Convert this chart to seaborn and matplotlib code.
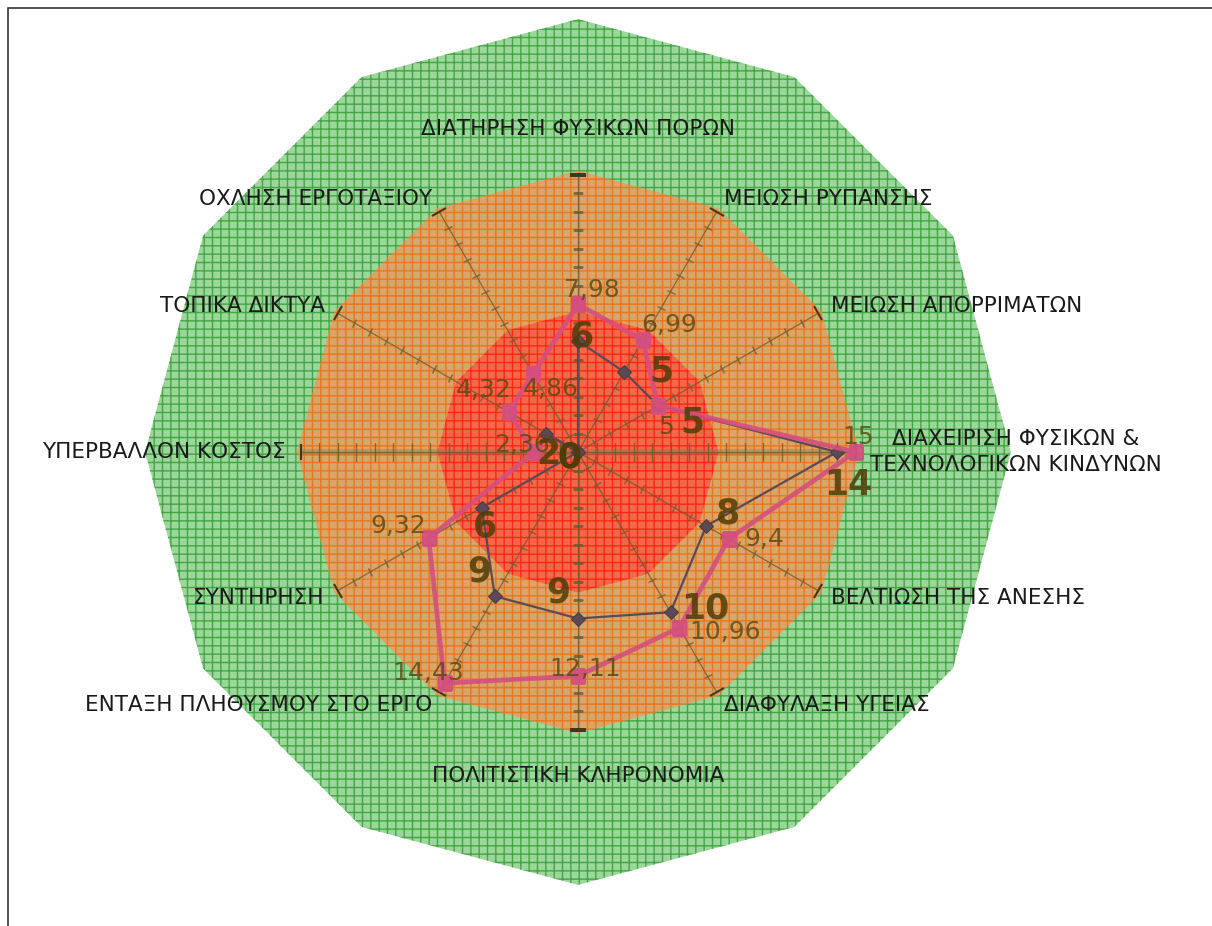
import numpy as np
import pandas as pd
import matplotlib
matplotlib.use('Agg')
import matplotlib.pyplot as plt
from matplotlib.markers import MarkerStyle
from matplotlib.transforms import Affine2D
from matplotlib.patches import Rectangle
import seaborn as sns

# ---------------- data ----------------
categories = [
    "ΔΙΑΤΗΡΗΣΗ ΦΥΣΙΚΩΝ ΠΟΡΩΝ",
    "ΜΕΙΩΣΗ ΡΥΠΑΝΣΗΣ",
    "ΜΕΙΩΣΗ ΑΠΟΡΡΙΜΑΤΩΝ",
    "ΔΙΑΧΕΙΡΙΣΗ ΦΥΣΙΚΩΝ &\nΤΕΧΝΟΛΟΓΙΚΩΝ ΚΙΝΔΥΝΩΝ",
    "ΒΕΛΤΙΩΣΗ ΤΗΣ ΑΝΕΣΗΣ",
    "ΔΙΑΦΥΛΑΞΗ ΥΓΕΙΑΣ",
    "ΠΟΛΙΤΙΣΤΙΚΗ ΚΛΗΡΟΝΟΜΙΑ",
    "ΕΝΤΑΞΗ ΠΛΗΘΥΣΜΟΥ ΣΤΟ ΕΡΓΟ",
    "ΣΥΝΤΗΡΗΣΗ",
    "ΥΠΕΡΒΑΛΛΟΝ ΚΟΣΤΟΣ",
    "ΤΟΠΙΚΑ ΔΙΚΤΥΑ",
    "ΟΧΛΗΣΗ ΕΡΓΟΤΑΞΙΟΥ",
]
series_pink = [7.98, 6.99, 5, 15, 9.4, 10.96, 12.11, 14.43, 9.32, 2.36, 4.32, 4.86]
series_dark = [6, 5, 5, 14, 8, 10, 9, 9, 6, 0, 2, 0]
band_green = 23.4
band_orange = 15.2
band_red = 7.6
axis_max = 15

# ---------------- style ----------------
pink_offsets = [(10, 10), (19, 11), (6, -15), (2, 11), (26, 0), (33, -3),
                (5, 5), (-12, 7), (-22, 9), (-9, 5), (-18, 16), (13, -11)]
dark_offsets = [(3, 3), (27, 0), (25, -12), (8, -24), (16, 9), (25, 3),
                (-14, 19), (-11, 18), (2, -14), (-6, -4), (2, -15), (-6, -4)]

sns.set_theme(style="white")
plt.rcParams['font.family'] = ['DejaVu Sans']
plt.rcParams['hatch.linewidth'] = 1.0

fig = plt.figure(figsize=(12.12, 9.26), dpi=100)
fig.patch.set_facecolor('white')

cx, cy = 578, 452
rmax = 24.0
rpx = 444
ax = fig.add_axes([(cx - rpx) / 1212, (926 - cy - rpx) / 926, 2 * rpx / 1212, 2 * rpx / 926],
                  projection='polar')
ax.set_theta_zero_location('N')
ax.set_theta_direction(-1)
ax.set_ylim(0, rmax)
ax.grid(False)
ax.set_xticks([])
ax.set_yticks([])
ax.spines['polar'].set_visible(False)
ax.patch.set_alpha(0)

n = len(categories)
theta = np.arange(n) * 2 * np.pi / n
theta_c = np.append(theta, theta[0])

# bands
for lvl, fc, hc in [(band_green, '#9bd69a', '#44a544'),
                    (band_orange, '#d8a66a', '#e8781e'),
                    (band_red, '#f2684a', '#ff2814')]:
    ax.fill(theta_c, np.full(n + 1, lvl), facecolor=fc, edgecolor=hc,
            hatch='++', linewidth=0, zorder=1)

# spokes with ticks
spoke_col = '#6a5a30'
rt = np.arange(1, axis_max)
for i, t in enumerate(theta):
    a = 90 - 360.0 * i / n
    horiz = abs(np.cos(np.deg2rad(a))) > 0.99
    if horiz:
        ax.plot([t, t], [0, axis_max], color='#7d7a55', lw=5, alpha=0.35, zorder=2,
                solid_capstyle='butt')
    ax.plot([t, t], [0, axis_max], color=spoke_col, lw=0.9, alpha=0.8, zorder=2)
    ms = MarkerStyle('|', transform=Affine2D().rotate_deg(a))
    ax.plot(np.full(len(rt), t), rt, ls='none', marker=ms,
            markersize=13 if horiz else 7, mec=spoke_col, mew=1, alpha=0.8, zorder=2)
    ax.plot([t], [axis_max], ls='none', marker=ms, markersize=12,
            mec='#3a3a20', mew=1.5, zorder=2)

# series lines via seaborn
df_dark = pd.DataFrame({'theta': theta_c, 'r': np.append(series_dark, series_dark[0])})
df_pink = pd.DataFrame({'theta': theta_c, 'r': np.append(series_pink, series_pink[0])})
sns.lineplot(data=df_dark, x='theta', y='r', sort=False, estimator=None, ax=ax,
             color='#5b4a55', lw=1.6, marker='D', markersize=7,
             markeredgecolor='#4a3a45', zorder=4)
sns.lineplot(data=df_pink, x='theta', y='r', sort=False, estimator=None, ax=ax,
             color='#d44f80', lw=3.4, marker='s', markersize=10.5,
             markeredgecolor='#d44f80', alpha=0.9, zorder=5)
ax.set_xlabel('')
ax.set_ylabel('')
ax.set_ylim(0, rmax)
ax.set_xticks([])
ax.set_yticks([])


def fmt(v):
    return f"{v:g}".replace('.', ',')


for i, t in enumerate(theta):
    ax.annotate(fmt(series_pink[i]), (t, series_pink[i]), xytext=pink_offsets[i],
                textcoords='offset points', ha='center', va='center',
                fontsize=18, color='#5e4a12', alpha=0.85, zorder=6)
    ax.annotate(fmt(series_dark[i]), (t, series_dark[i]), xytext=dark_offsets[i],
                textcoords='offset points', ha='center', va='center',
                fontsize=25, fontweight='bold', color='#4f3c08', alpha=0.85, zorder=6)

# category labels
for i, t in enumerate(theta):
    a = np.deg2rad(90 - 360.0 * i / n)
    c, s = np.cos(a), np.sin(a)
    ha = 'left' if c > 0.1 else ('right' if c < -0.1 else 'center')
    if s > 0.9:
        va, r = 'bottom', 16.9
    elif s < -0.9:
        va, r = 'top', 17.0
    else:
        va, r = 'center', 15.8
    ax.text(t, r, categories[i], ha=ha, va=va, fontsize=15.5, color='#1a1a1a',
            multialignment='center', linespacing=1.35, zorder=7)

fig.patches.append(Rectangle((8 / 1212, -0.2), 1.2, 1.2 - 8 / 926, transform=fig.transFigure,
                             fill=False, lw=1.2, ec='#333333'))

fig.savefig('out.png', dpi=100)
